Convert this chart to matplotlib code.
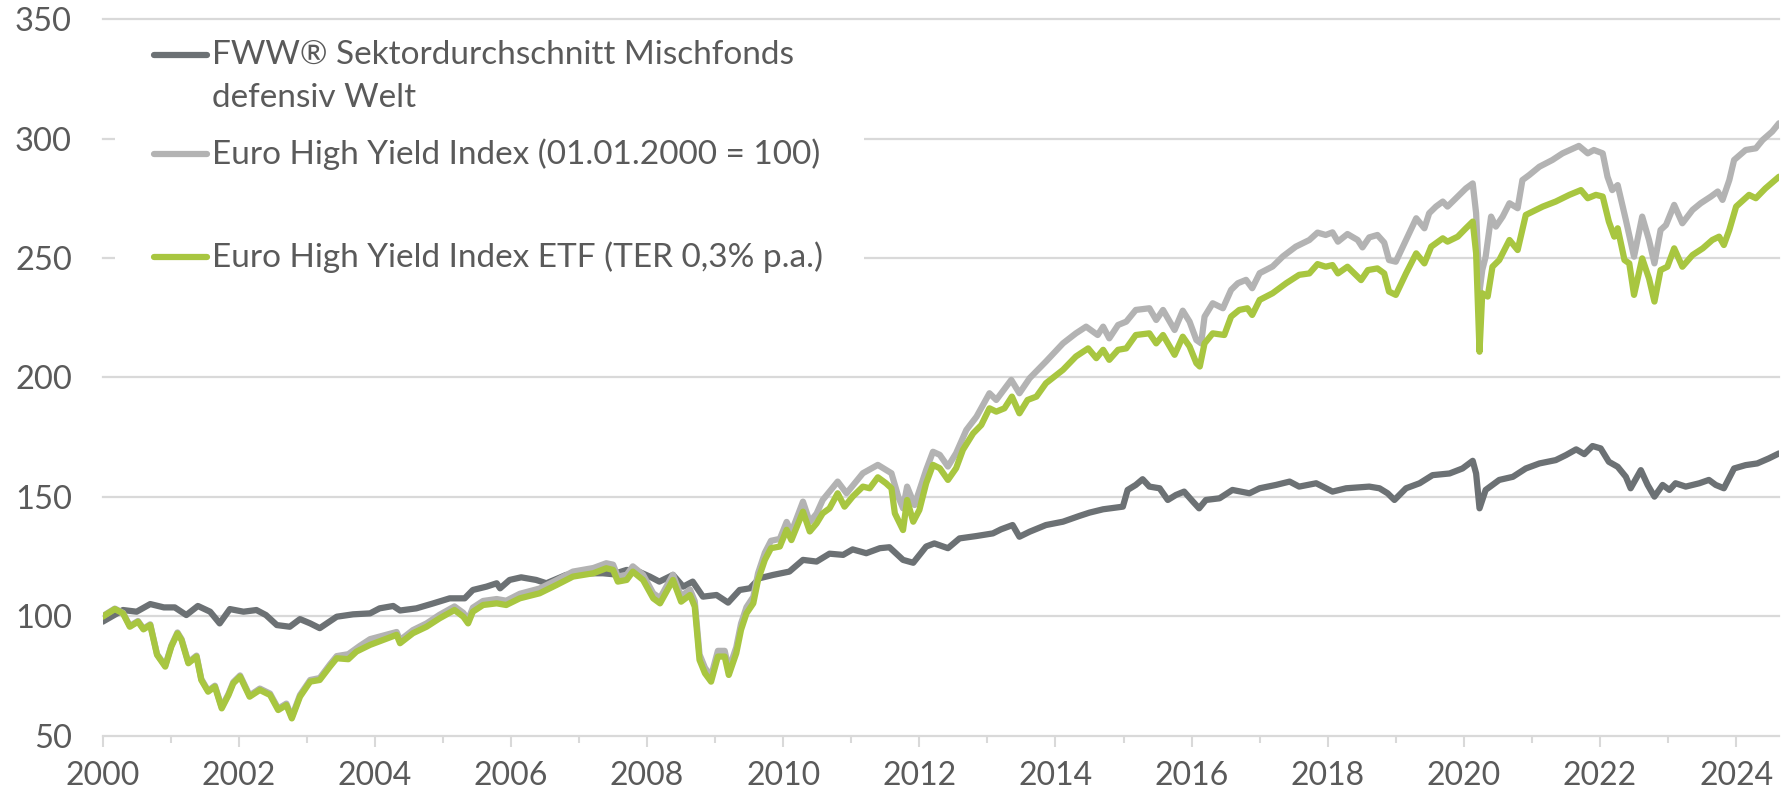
import matplotlib
matplotlib.use("Agg")
import matplotlib.pyplot as plt
from matplotlib.lines import Line2D
from matplotlib.patches import Rectangle

# ---------------- data ----------------
fww_years = [2000.00, 2000.30, 2000.50, 2000.70, 2000.90, 2001.06, 2001.23, 2001.40, 2001.58, 2001.72,
             2001.87, 2002.07, 2002.26, 2002.40, 2002.56, 2002.75, 2002.90, 2003.05, 2003.19, 2003.44,
             2003.68, 2003.93, 2004.07, 2004.27, 2004.37, 2004.61, 2004.86, 2005.10, 2005.32, 2005.44,
             2005.64, 2005.79, 2005.84, 2005.98, 2006.15, 2006.37, 2006.52, 2006.81, 2007.11, 2007.35,
             2007.50, 2007.70, 2007.89, 2008.04, 2008.18, 2008.38, 2008.53, 2008.67, 2008.82, 2009.02,
             2009.19, 2009.36, 2009.51, 2009.65, 2009.85, 2010.09, 2010.29, 2010.49, 2010.68, 2010.88,
             2011.02, 2011.22, 2011.42, 2011.56, 2011.76, 2011.91, 2012.10, 2012.22, 2012.42, 2012.59,
             2012.84, 2013.08, 2013.20, 2013.37, 2013.47, 2013.62, 2013.86, 2014.11, 2014.35, 2014.50,
             2014.70, 2014.99, 2015.06, 2015.18, 2015.28, 2015.38, 2015.53, 2015.65, 2015.77, 2015.89,
             2016.02, 2016.11, 2016.21, 2016.41, 2016.60, 2016.85, 2017.00, 2017.24, 2017.44, 2017.58,
             2017.83, 2018.07, 2018.27, 2018.46, 2018.61, 2018.76, 2018.88, 2018.98, 2019.15, 2019.35,
             2019.54, 2019.79, 2019.98, 2020.13, 2020.18, 2020.23, 2020.32, 2020.52, 2020.72, 2020.91,
             2021.11, 2021.35, 2021.50, 2021.65, 2021.77, 2021.89, 2022.01, 2022.13, 2022.26, 2022.38,
             2022.45, 2022.60, 2022.70, 2022.80, 2022.92, 2023.02, 2023.11, 2023.26, 2023.46, 2023.60,
             2023.70, 2023.82, 2023.97, 2024.14, 2024.31, 2024.48, 2024.63]
fww_values = [97.7, 102.6, 101.9, 105.1, 103.7, 103.7, 100.5, 104.3, 101.9, 97.0,
              103.0, 101.9, 102.6, 100.5, 96.3, 95.6, 98.8, 97.0, 95.0, 99.8,
              100.8, 101.2, 103.3, 104.3, 102.4, 103.3, 105.4, 107.5, 107.5, 111.0,
              112.4, 113.8, 111.7, 115.2, 116.3, 115.2, 113.8, 117.3, 118.0, 118.0,
              117.6, 119.4, 118.5, 116.6, 114.5, 117.3, 112.4, 114.5, 108.2, 108.9,
              105.7, 111.0, 111.7, 115.9, 117.3, 118.7, 123.6, 122.9, 126.2, 125.7,
              128.0, 126.4, 128.5, 128.9, 123.6, 122.4, 129.2, 130.5, 128.5, 132.6,
              133.6, 134.7, 136.4, 138.2, 133.3, 135.4, 138.2, 139.6, 142.0, 143.4,
              144.8, 145.9, 152.9, 155.0, 157.4, 154.3, 153.6, 148.7, 150.8, 152.2,
              148.0, 145.2, 148.7, 149.4, 152.9, 151.5, 153.6, 155.0, 156.4, 154.3,
              155.7, 152.2, 153.6, 154.0, 154.3, 153.6, 151.5, 148.7, 153.6, 155.7,
              159.1, 159.8, 161.9, 165.1, 159.8, 145.2, 152.9, 157.1, 158.4, 161.9,
              164.0, 165.4, 167.5, 169.9, 167.9, 171.3, 170.3, 164.7, 162.6, 158.4,
              153.6, 161.2, 155.0, 150.1, 155.0, 152.9, 155.7, 154.3, 155.7, 157.1,
              155.0, 153.6, 161.9, 163.3, 164.0, 166.1, 168.2]

index_years = [2000.00, 2000.18, 2000.30, 2000.40, 2000.52, 2000.60, 2000.70, 2000.80, 2000.92, 2001.01,
               2001.10, 2001.16, 2001.26, 2001.38, 2001.45, 2001.55, 2001.65, 2001.75, 2001.85, 2001.92,
               2002.02, 2002.16, 2002.31, 2002.46, 2002.58, 2002.70, 2002.78, 2002.90, 2003.05, 2003.19,
               2003.34, 2003.44, 2003.61, 2003.78, 2003.93, 2004.32, 2004.37, 2004.56, 2004.76, 2004.95,
               2005.17, 2005.30, 2005.37, 2005.44, 2005.59, 2005.79, 2005.93, 2006.13, 2006.42, 2006.67,
               2006.91, 2007.21, 2007.40, 2007.50, 2007.57, 2007.70, 2007.79, 2007.94, 2008.09, 2008.19,
               2008.38, 2008.50, 2008.63, 2008.70, 2008.77, 2008.85, 2008.94, 2009.04, 2009.14, 2009.20,
               2009.31, 2009.38, 2009.46, 2009.56, 2009.63, 2009.73, 2009.82, 2009.95, 2010.05, 2010.12,
               2010.29, 2010.39, 2010.49, 2010.58, 2010.80, 2010.93, 2011.17, 2011.39, 2011.59, 2011.69,
               2011.76, 2011.82, 2011.93, 2012.10, 2012.20, 2012.30, 2012.42, 2012.54, 2012.69, 2012.84,
               2013.03, 2013.13, 2013.35, 2013.47, 2013.62, 2013.86, 2014.11, 2014.30, 2014.45, 2014.62,
               2014.70, 2014.79, 2014.92, 2015.04, 2015.18, 2015.38, 2015.48, 2015.58, 2015.75, 2015.87,
               2015.97, 2016.07, 2016.14, 2016.19, 2016.31, 2016.46, 2016.58, 2016.68, 2016.80, 2016.89,
               2017.00, 2017.19, 2017.34, 2017.53, 2017.73, 2017.85, 2017.97, 2018.07, 2018.15, 2018.29,
               2018.44, 2018.51, 2018.61, 2018.73, 2018.83, 2018.90, 2019.00, 2019.15, 2019.30, 2019.42,
               2019.49, 2019.59, 2019.69, 2019.76, 2019.91, 2020.03, 2020.13, 2020.18, 2020.23, 2020.27,
               2020.32, 2020.40, 2020.47, 2020.57, 2020.67, 2020.79, 2020.86, 2020.96, 2021.11, 2021.30,
               2021.45, 2021.69, 2021.82, 2021.91, 2022.04, 2022.11, 2022.18, 2022.26, 2022.38, 2022.50,
               2022.62, 2022.72, 2022.80, 2022.89, 2022.97, 2023.09, 2023.21, 2023.36, 2023.48, 2023.63,
               2023.73, 2023.80, 2023.90, 2023.97, 2024.14, 2024.29, 2024.39, 2024.53, 2024.63]
index_values = [100.0, 103.2, 101.4, 95.9, 98.0, 94.8, 96.6, 84.1, 79.3, 87.7,
                93.2, 90.4, 80.7, 83.5, 73.7, 68.8, 70.9, 61.9, 67.5, 72.4,
                75.2, 66.8, 69.7, 67.6, 61.3, 63.4, 57.8, 67.0, 73.3, 74.1,
                79.8, 83.3, 84.1, 87.6, 90.4, 93.4, 90.0, 94.2, 97.0, 100.6,
                104.1, 101.4, 98.6, 103.6, 106.4, 107.2, 106.5, 109.4, 111.6, 115.1,
                118.7, 120.2, 122.2, 121.6, 116.6, 117.4, 120.9, 117.4, 109.6, 107.6,
                117.4, 108.3, 111.2, 106.3, 84.0, 78.4, 74.9, 85.5, 85.5, 77.8,
                87.0, 96.9, 103.8, 108.1, 118.0, 126.6, 131.6, 132.4, 139.5, 135.2,
                148.0, 139.5, 143.0, 148.7, 156.4, 151.5, 159.9, 163.4, 159.9, 150.1,
                145.2, 154.3, 146.6, 161.3, 168.9, 167.6, 162.7, 168.3, 178.0, 183.6,
                193.4, 190.6, 199.0, 193.4, 199.7, 206.7, 214.3, 218.5, 221.3, 217.8,
                221.3, 216.4, 222.0, 223.4, 228.3, 229.0, 224.1, 228.3, 219.9, 228.0,
                223.4, 215.7, 214.3, 225.5, 231.1, 229.0, 236.7, 239.5, 240.9, 237.4,
                243.7, 246.5, 250.7, 254.8, 257.6, 260.7, 259.7, 260.8, 256.9, 260.1,
                257.6, 254.5, 258.7, 259.7, 256.5, 249.2, 248.5, 257.6, 266.7, 262.5,
                268.8, 271.6, 273.7, 271.6, 275.8, 279.2, 281.3, 268.8, 236.0, 245.0,
                250.6, 267.4, 263.2, 267.4, 273.0, 270.9, 282.7, 284.8, 288.3, 291.1,
                293.9, 297.0, 293.9, 295.3, 293.9, 284.1, 278.5, 280.6, 266.0, 250.6,
                267.4, 257.6, 247.8, 261.8, 263.9, 272.3, 264.6, 270.2, 273.0, 275.8,
                277.9, 274.4, 282.7, 291.1, 295.3, 296.0, 299.5, 303.0, 306.5]

etf_years = [2000.00, 2000.18, 2000.30, 2000.40, 2000.52, 2000.60, 2000.70, 2000.80, 2000.92, 2001.01,
             2001.10, 2001.16, 2001.26, 2001.38, 2001.45, 2001.55, 2001.65, 2001.75, 2001.85, 2001.92,
             2002.02, 2002.16, 2002.31, 2002.46, 2002.58, 2002.70, 2002.78, 2002.90, 2003.05, 2003.19,
             2003.34, 2003.44, 2003.61, 2003.73, 2003.93, 2004.32, 2004.37, 2004.56, 2004.76, 2004.95,
             2005.17, 2005.30, 2005.37, 2005.44, 2005.59, 2005.79, 2005.93, 2006.13, 2006.42, 2006.67,
             2006.91, 2007.21, 2007.40, 2007.50, 2007.57, 2007.70, 2007.79, 2007.94, 2008.09, 2008.19,
             2008.38, 2008.50, 2008.63, 2008.70, 2008.77, 2008.85, 2008.94, 2009.04, 2009.14, 2009.20,
             2009.31, 2009.38, 2009.46, 2009.56, 2009.63, 2009.73, 2009.82, 2009.95, 2010.05, 2010.12,
             2010.29, 2010.39, 2010.49, 2010.58, 2010.68, 2010.80, 2010.90, 2011.02, 2011.17, 2011.27,
             2011.39, 2011.51, 2011.59, 2011.64, 2011.76, 2011.82, 2011.91, 2012.00, 2012.10, 2012.20,
             2012.30, 2012.42, 2012.54, 2012.64, 2012.79, 2012.91, 2013.03, 2013.13, 2013.25, 2013.36,
             2013.47, 2013.59, 2013.72, 2013.86, 2014.11, 2014.30, 2014.48, 2014.60, 2014.70, 2014.79,
             2014.92, 2015.04, 2015.18, 2015.38, 2015.48, 2015.58, 2015.75, 2015.87, 2015.97, 2016.07,
             2016.12, 2016.19, 2016.31, 2016.48, 2016.58, 2016.70, 2016.82, 2016.89, 2017.00, 2017.19,
             2017.39, 2017.58, 2017.73, 2017.85, 2017.97, 2018.07, 2018.15, 2018.29, 2018.49, 2018.59,
             2018.73, 2018.83, 2018.90, 2019.00, 2019.15, 2019.30, 2019.42, 2019.52, 2019.69, 2019.76,
             2019.91, 2020.03, 2020.13, 2020.18, 2020.23, 2020.27, 2020.35, 2020.42, 2020.52, 2020.67,
             2020.79, 2020.91, 2021.16, 2021.35, 2021.55, 2021.72, 2021.82, 2021.94, 2022.04, 2022.13,
             2022.21, 2022.26, 2022.36, 2022.43, 2022.50, 2022.62, 2022.72, 2022.80, 2022.89, 2022.99,
             2023.09, 2023.21, 2023.36, 2023.51, 2023.65, 2023.75, 2023.82, 2023.90, 2024.00, 2024.19,
             2024.29, 2024.43, 2024.63]
etf_values = [99.8, 103.0, 101.2, 95.6, 97.7, 94.5, 96.3, 83.8, 78.9, 87.3,
              92.8, 90.0, 80.3, 83.1, 73.3, 68.4, 70.5, 61.4, 67.0, 71.9,
              74.7, 66.3, 69.1, 67.0, 60.7, 62.8, 57.2, 66.3, 72.6, 73.3,
              78.9, 82.4, 82.0, 85.2, 88.0, 92.2, 88.7, 92.9, 95.6, 99.1,
              102.6, 99.8, 97.0, 101.9, 104.7, 105.4, 104.7, 107.5, 109.6, 113.1,
              116.6, 118.0, 120.1, 119.4, 114.5, 115.2, 118.7, 115.2, 107.5, 105.4,
              115.2, 106.1, 108.9, 104.0, 81.7, 76.1, 72.6, 83.1, 83.1, 75.4,
              84.5, 94.3, 101.2, 105.4, 115.2, 123.6, 128.5, 129.2, 136.2, 131.9,
              143.8, 135.5, 138.9, 143.1, 145.2, 151.5, 145.9, 150.1, 154.3, 153.6,
              158.2, 155.7, 153.6, 143.1, 136.1, 148.7, 139.6, 144.5, 155.7, 163.4,
              162.0, 157.1, 162.0, 169.7, 176.6, 180.1, 187.1, 185.7, 187.1, 192.0,
              185.0, 190.6, 192.0, 197.6, 203.2, 208.8, 212.2, 208.1, 211.6, 207.4,
              211.6, 212.2, 217.8, 218.5, 214.3, 217.8, 209.5, 217.1, 213.0, 206.0,
              204.6, 214.3, 218.5, 217.8, 225.5, 228.3, 229.0, 226.2, 232.5, 235.3,
              239.5, 243.0, 243.6, 247.5, 246.4, 247.1, 243.6, 246.4, 240.8, 245.0,
              245.7, 243.6, 236.0, 234.6, 243.6, 252.0, 247.8, 254.8, 258.3, 256.9,
              259.0, 262.5, 265.3, 252.0, 210.8, 235.3, 233.9, 246.4, 249.2, 257.6,
              253.4, 268.1, 271.6, 273.7, 276.5, 278.5, 275.1, 276.5, 275.8, 265.3,
              259.0, 262.5, 249.2, 247.8, 234.6, 249.9, 241.5, 231.8, 245.0, 246.4,
              254.1, 246.4, 251.3, 254.1, 257.6, 259.0, 255.5, 261.8, 271.6, 276.5,
              275.1, 279.2, 284.1]

labels = ["FWW® Sektordurchschnitt Mischfonds\ndefensiv Welt",
          "Euro High Yield Index (01.01.2000 = 100)",
          "Euro High Yield Index ETF (TER 0,3% p.a.)"]
colors = ["#6c7174", "#b3b3b3", "#a8c640"]
y_ticks = [50, 100, 150, 200, 250, 300, 350]
x_major = list(range(2000, 2025, 2))
x_minor = list(range(2001, 2025, 2))

# ---------------- figure ----------------
W, H, DPI = 1791, 796, 100
plt.rcParams['font.family'] = ['Lato', 'DejaVu Sans']
fig = plt.figure(figsize=(W / DPI, H / DPI), dpi=DPI)
ax_l, ax_r, ax_t, ax_b = 102.6, 1779.0, 19.4, 735.6
ax = fig.add_axes([ax_l / W, 1 - ax_b / H, (ax_r - ax_l) / W, (ax_b - ax_t) / H])

text_col = "#5a5a5a"
grid_col = "#d9d9d9"
lw = 4.5

for v in y_ticks:
    ax.axhline(v, color=grid_col, lw=1.6, zorder=0, clip_on=False)

ax.plot(fww_years, fww_values, color=colors[0], lw=lw, solid_capstyle='round',
        solid_joinstyle='round', zorder=3)
ax.plot(index_years, index_values, color=colors[1], lw=lw, solid_capstyle='round',
        solid_joinstyle='round', zorder=4)
ax.plot(etf_years, etf_values, color=colors[2], lw=lw, solid_capstyle='round',
        solid_joinstyle='round', zorder=5)

ax.set_xlim(2000, 2024.63)
ax.set_ylim(50, 350)
for s in ax.spines.values():
    s.set_visible(False)

ax.set_yticks(y_ticks)
ax.set_yticklabels([str(v) for v in y_ticks])
ax.tick_params(axis='y', length=0, pad=22, labelsize=23.5, labelcolor=text_col)

ax.set_xticks(x_major)
ax.set_xticklabels([str(v) for v in x_major])
ax.set_xticks(x_minor, minor=True)
ax.tick_params(axis='x', which='major', length=8, width=1.5, color=grid_col,
               pad=10, labelsize=23, labelcolor=text_col)
ax.tick_params(axis='x', which='minor', length=5, width=1.5, color=grid_col)

# ---------------- legend (manual, to match layout) ----------------
def fx(px):
    return px / W

def fy(py):
    return 1 - py / H

fig.add_artist(Rectangle((fx(115), fy(285)), fx(864) - fx(115), fy(35) - fy(285),
                         transform=fig.transFigure, facecolor='white', edgecolor='none',
                         zorder=2))
leg_rows = [55, 154, 257]
leg_fs = 24
for i, yrow in enumerate(leg_rows):
    fig.add_artist(Line2D([fx(154), fx(207)], [fy(yrow), fy(yrow)], color=colors[i], lw=lw,
                          solid_capstyle='round', transform=fig.transFigure, zorder=3))
lines0 = labels[0].split("\n")
fig.text(fx(212), fy(55), lines0[0], ha='left', va='center', fontsize=leg_fs, color=text_col, zorder=4)
fig.text(fx(212), fy(98), lines0[1], ha='left', va='center', fontsize=leg_fs, color=text_col, zorder=4)
fig.text(fx(212), fy(154), labels[1], ha='left', va='center', fontsize=leg_fs, color=text_col, zorder=4)
fig.text(fx(212), fy(257), labels[2], ha='left', va='center', fontsize=leg_fs, color=text_col, zorder=4)

fig.savefig("out.png", dpi=DPI, facecolor='white')
